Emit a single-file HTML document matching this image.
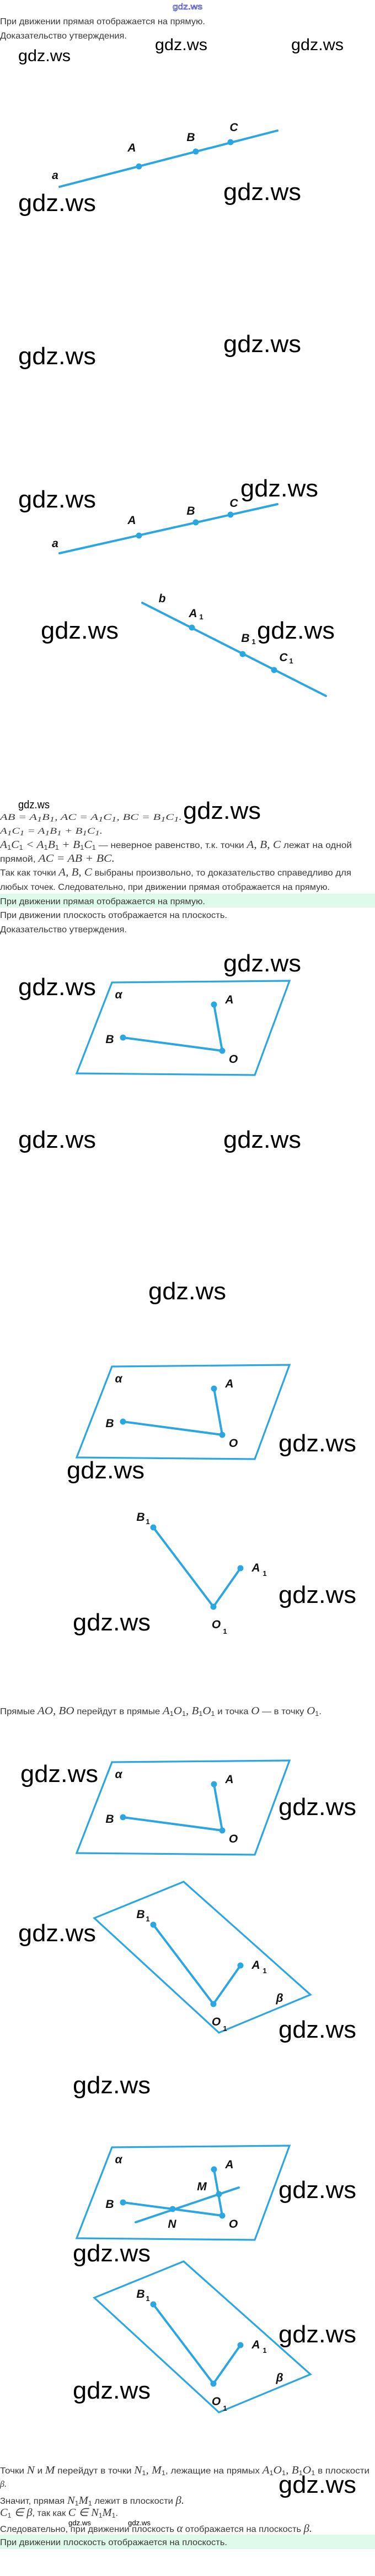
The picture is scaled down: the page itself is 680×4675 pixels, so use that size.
<!DOCTYPE html>
<html><head><meta charset="utf-8"><style>
html,body{margin:0;padding:0;background:#fff;}
svg{display:block;}
.t{font-family:"Liberation Sans",sans-serif;font-size:16px;fill:#3a3a3a;}
.m{font-family:"Liberation Serif",serif;font-style:italic;}
.w{font-family:"Liberation Sans",sans-serif;fill:#000;}
.l{font-family:"Liberation Sans",sans-serif;font-style:italic;font-weight:bold;font-size:21px;fill:#111;text-anchor:middle;}
.s{font-family:"Liberation Sans",sans-serif;font-weight:bold;font-size:13px;fill:#111;text-anchor:middle;}
.ln{stroke:#2aa6e2;stroke-width:4;stroke-linecap:round;fill:none;}
.pl{stroke:#2aa6e2;stroke-width:3.2;fill:none;stroke-linejoin:miter;}
.d{fill:#2aa6e2;}
</style></head><body>
<svg width="680" height="4675" viewBox="0 0 680 4675" xmlns="http://www.w3.org/2000/svg">
<rect x="0" y="1622" width="680" height="25" fill="#ddfaeb"/>
<rect x="0" y="4600" width="680" height="26" fill="#ddfaeb"/>

<!-- texts -->
<text x="340" y="17" font-family="Liberation Sans,sans-serif" font-size="15" fill="#fff" stroke="#3333cc" stroke-width="0.7" text-anchor="middle" textLength="54" lengthAdjust="spacingAndGlyphs">gdz.ws</text>
<text class="t" x="0" y="44" textLength="372" lengthAdjust="spacingAndGlyphs">При движении прямая отображается на прямую.</text>
<text class="t" x="0" y="70" textLength="230" lengthAdjust="spacingAndGlyphs">Доказательство утверждения.</text>

<text class="w" x="33" y="1467" font-size="20" textLength="57" lengthAdjust="spacingAndGlyphs">gdz.ws</text>
<text class="t m" x="0" y="1488" font-size="20" textLength="330" lengthAdjust="spacingAndGlyphs">AB = A<tspan font-size="13" dy="3">1</tspan><tspan dy="-3">B</tspan><tspan font-size="13" dy="3">1</tspan><tspan dy="-3">, AC = A</tspan><tspan font-size="13" dy="3">1</tspan><tspan dy="-3">C</tspan><tspan font-size="13" dy="3">1</tspan><tspan dy="-3">, BC = B</tspan><tspan font-size="13" dy="3">1</tspan><tspan dy="-3">C</tspan><tspan font-size="13" dy="3">1</tspan><tspan dy="-3">.</tspan></text>
<text class="t m" x="0" y="1513" font-size="20" textLength="186" lengthAdjust="spacingAndGlyphs">A<tspan font-size="13" dy="3">1</tspan><tspan dy="-3">C</tspan><tspan font-size="13" dy="3">1</tspan><tspan dy="-3"> = A</tspan><tspan font-size="13" dy="3">1</tspan><tspan dy="-3">B</tspan><tspan font-size="13" dy="3">1</tspan><tspan dy="-3"> + B</tspan><tspan font-size="13" dy="3">1</tspan><tspan dy="-3">C</tspan><tspan font-size="13" dy="3">1</tspan><tspan dy="-3">.</tspan></text>
<text class="t" x="0" y="1539" textLength="638" lengthAdjust="spacingAndGlyphs"><tspan class="m" font-size="20">A</tspan><tspan font-size="12" dy="3">1</tspan><tspan class="m" font-size="20" dy="-3">C</tspan><tspan font-size="12" dy="3">1</tspan><tspan class="m" font-size="20" dy="-3"> &lt; A</tspan><tspan font-size="12" dy="3">1</tspan><tspan class="m" font-size="20" dy="-3">B</tspan><tspan font-size="12" dy="3">1</tspan><tspan class="m" font-size="20" dy="-3"> + B</tspan><tspan font-size="12" dy="3">1</tspan><tspan class="m" font-size="20" dy="-3">C</tspan><tspan font-size="12" dy="3">1</tspan><tspan dy="-3"> — неверное равенство, т.к. точки </tspan><tspan class="m" font-size="20">A, B, C</tspan><tspan> лежат на одной</tspan></text>
<text class="t" x="0" y="1564" textLength="208" lengthAdjust="spacingAndGlyphs">прямой, <tspan class="m" font-size="20">AC = AB + BC.</tspan></text>
<text class="t" x="0" y="1589" textLength="637" lengthAdjust="spacingAndGlyphs">Так как точки <tspan class="m" font-size="20">A, B, C</tspan> выбраны произвольно, то доказательство справедливо для</text>
<text class="t" x="0" y="1615" textLength="598" lengthAdjust="spacingAndGlyphs">любых точек. Следовательно, при движении прямая отображается на прямую.</text>
<text class="t" x="0" y="1641" textLength="372" lengthAdjust="spacingAndGlyphs">При движении прямая отображается на прямую.</text>
<text class="t" x="0" y="1666" textLength="412" lengthAdjust="spacingAndGlyphs">При движении плоскость отображается на плоскость.</text>
<text class="t" x="0" y="1692" textLength="230" lengthAdjust="spacingAndGlyphs">Доказательство утверждения.</text>

<text class="t" x="0" y="3111" textLength="583" lengthAdjust="spacingAndGlyphs">Прямые <tspan class="m" font-size="20">AO, BO</tspan> перейдут в прямые <tspan class="m" font-size="20">A</tspan><tspan font-size="12" dy="3">1</tspan><tspan class="m" font-size="20" dy="-3">O</tspan><tspan font-size="12" dy="3">1</tspan><tspan class="m" font-size="20" dy="-3">, B</tspan><tspan font-size="12" dy="3">1</tspan><tspan class="m" font-size="20" dy="-3">O</tspan><tspan font-size="12" dy="3">1</tspan><tspan dy="-3"> и точка </tspan><tspan class="m" font-size="20">O</tspan> — в точку <tspan class="m" font-size="20">O</tspan><tspan font-size="12" dy="3">1</tspan><tspan dy="-3">.</tspan></text>

<text class="t" x="0" y="4489" textLength="670" lengthAdjust="spacingAndGlyphs">Точки <tspan class="m" font-size="20">N</tspan> и <tspan class="m" font-size="20">M</tspan> перейдут в точки <tspan class="m" font-size="20">N</tspan><tspan font-size="12" dy="3">1</tspan><tspan class="m" font-size="20" dy="-3">, M</tspan><tspan font-size="12" dy="3">1</tspan><tspan dy="-3">, лежащие на прямых </tspan><tspan class="m" font-size="20">A</tspan><tspan font-size="12" dy="3">1</tspan><tspan class="m" font-size="20" dy="-3">O</tspan><tspan font-size="12" dy="3">1</tspan><tspan class="m" font-size="20" dy="-3">, B</tspan><tspan font-size="12" dy="3">1</tspan><tspan class="m" font-size="20" dy="-3">O</tspan><tspan font-size="12" dy="3">1</tspan><tspan dy="-3"> в плоскости</tspan></text>
<text class="t m" x="0" y="4513" font-size="20">β.</text>
<text class="t" x="0" y="4544" textLength="334" lengthAdjust="spacingAndGlyphs">Значит, прямая <tspan class="m" font-size="20">N</tspan><tspan font-size="12" dy="3">1</tspan><tspan class="m" font-size="20" dy="-3">M</tspan><tspan font-size="12" dy="3">1</tspan><tspan dy="-3"> лежит в плоскости </tspan><tspan class="m" font-size="20">β.</tspan></text>
<text class="t" x="0" y="4566" textLength="214" lengthAdjust="spacingAndGlyphs"><tspan class="m" font-size="20">C</tspan><tspan font-size="12" dy="3">1</tspan><tspan class="m" font-size="20" dy="-3"> ∈ β</tspan>, так как <tspan class="m" font-size="20">C ∈ N</tspan><tspan font-size="12" dy="3">1</tspan><tspan class="m" font-size="20" dy="-3">M</tspan><tspan font-size="12" dy="3">1</tspan><tspan dy="-3">.</tspan></text>
<text class="w" x="124" y="4583" font-size="13" textLength="41" lengthAdjust="spacingAndGlyphs">gdz.ws</text>
<text class="w" x="232" y="4583" font-size="13" textLength="41" lengthAdjust="spacingAndGlyphs">gdz.ws</text>
<text class="t" x="0" y="4595" textLength="566" lengthAdjust="spacingAndGlyphs">Следовательно, при движении плоскость <tspan class="m" font-size="20">α</tspan> отображается на плоскость <tspan class="m" font-size="20">β.</tspan></text>
<text class="t" x="0" y="4619" textLength="412" lengthAdjust="spacingAndGlyphs">При движении плоскость отображается на плоскость.</text>

<!-- line figure 1 -->
<line class="ln" x1="108" y1="339" x2="503" y2="237"/>
<circle class="d" cx="252" cy="302" r="5.5"/><circle class="d" cx="355" cy="275" r="5.5"/><circle class="d" cx="418" cy="258" r="5.5"/>
<text class="l" x="100" y="325">a</text><text class="l" x="239" y="275">A</text><text class="l" x="346" y="256">B</text><text class="l" x="424" y="238">C</text>

<!-- line figure 2 -->
<line class="ln" x1="108" y1="1004" x2="503" y2="915"/>
<circle class="d" cx="252" cy="972" r="5.5"/><circle class="d" cx="355" cy="948" r="5.5"/><circle class="d" cx="418" cy="934" r="5.5"/>
<text class="l" x="100" y="993">a</text><text class="l" x="239" y="951">A</text><text class="l" x="346" y="934">B</text><text class="l" x="424" y="920">C</text>
<line class="ln" x1="258" y1="1094" x2="591" y2="1263"/>
<circle class="d" cx="348" cy="1139" r="5.5"/><circle class="d" cx="440" cy="1187" r="5.5"/><circle class="d" cx="497" cy="1216" r="5.5"/>
<text class="l" x="294" y="1093">b</text>
<text class="l" x="350" y="1120">A</text><text class="s" x="365" y="1124">1</text>
<text class="l" x="445" y="1165">B</text><text class="s" x="460" y="1169">1</text>
<text class="l" x="514" y="1200">C</text><text class="s" x="528" y="1204">1</text>

<!-- plane alpha template uses -->
<defs>
<g id="pa">
<polygon class="pl" points="0,0 322,-3 259,168 -64,165"/>
<text class="l" x="12" y="29" font-weight="normal">α</text>
<line class="ln" x1="185" y1="40" x2="200" y2="124"/>
<line class="ln" x1="20" y1="100" x2="200" y2="124"/>
<circle class="d" cx="185" cy="40" r="5.5"/><circle class="d" cx="20" cy="100" r="5.5"/><circle class="d" cx="200" cy="124" r="5.5"/>
<text class="l" x="213" y="38">A</text><text class="l" x="-4" y="110">B</text><text class="l" x="220" y="146">O</text>
</g>
<g id="fb">
<line class="ln" x1="0" y1="0" x2="109" y2="144"/>
<line class="ln" x1="158" y1="74" x2="109" y2="144"/>
<circle class="d" cx="0" cy="0" r="5.5"/><circle class="d" cx="158" cy="74" r="5.5"/><circle class="d" cx="109" cy="144" r="5.5"/>
<text class="l" x="-23" y="-12">B</text><text class="s" x="-10" y="-6">1</text>
<text class="l" x="186" y="80">A</text><text class="s" x="202" y="88">1</text>
<text class="l" x="114" y="183">O</text><text class="s" x="130" y="193">1</text>
</g>
<g id="pb">
<polygon class="pl" points="55,-78 285,127 119,196 -107,-12"/>
<text class="l" x="229" y="140" font-weight="normal">β</text>
</g>
</defs>
<use href="#pa" x="203" y="1783"/>
<use href="#pa" x="203" y="2480"/>
<use href="#fb" x="278" y="2772"/>
<use href="#pa" x="203" y="3198"/>
<use href="#pb" x="278" y="3493"/><use href="#fb" x="278" y="3493"/>
<use href="#pa" x="203" y="3897"/>
<line class="ln" x1="246" y1="4033" x2="433" y2="3970"/>
<circle class="d" cx="397" cy="3982" r="5.5"/><circle class="d" cx="313" cy="4009" r="5.5"/>
<text class="l" x="366" y="3975">M</text><text class="l" x="312" y="4043">N</text>
<use href="#pb" x="278" y="4182"/><use href="#fb" x="278" y="4182"/>

<!-- watermarks -->
<g class="w">
<text x="33" y="111" font-size="30" textLength="95" lengthAdjust="spacingAndGlyphs">gdz.ws</text>
<text x="281" y="91" font-size="30" textLength="95" lengthAdjust="spacingAndGlyphs">gdz.ws</text>
<text x="528" y="91" font-size="30" textLength="95" lengthAdjust="spacingAndGlyphs">gdz.ws</text>
<text x="33" y="383" font-size="44" textLength="141" lengthAdjust="spacingAndGlyphs">gdz.ws</text>
<text x="405" y="363" font-size="44" textLength="141" lengthAdjust="spacingAndGlyphs">gdz.ws</text>
<text x="33" y="661" font-size="44" textLength="141" lengthAdjust="spacingAndGlyphs">gdz.ws</text>
<text x="405" y="639" font-size="44" textLength="141" lengthAdjust="spacingAndGlyphs">gdz.ws</text>
<text x="33" y="921" font-size="44" textLength="141" lengthAdjust="spacingAndGlyphs">gdz.ws</text>
<text x="436" y="901" font-size="44" textLength="141" lengthAdjust="spacingAndGlyphs">gdz.ws</text>
<text x="74" y="1159" font-size="44" textLength="141" lengthAdjust="spacingAndGlyphs">gdz.ws</text>
<text x="466" y="1159" font-size="44" textLength="141" lengthAdjust="spacingAndGlyphs">gdz.ws</text>
<text x="332" y="1486" font-size="44" textLength="141" lengthAdjust="spacingAndGlyphs">gdz.ws</text>
<text x="405" y="1763" font-size="44" textLength="141" lengthAdjust="spacingAndGlyphs">gdz.ws</text>
<text x="33" y="1806" font-size="44" textLength="141" lengthAdjust="spacingAndGlyphs">gdz.ws</text>
<text x="33" y="2083" font-size="44" textLength="141" lengthAdjust="spacingAndGlyphs">gdz.ws</text>
<text x="405" y="2083" font-size="44" textLength="141" lengthAdjust="spacingAndGlyphs">gdz.ws</text>
<text x="269" y="2358" font-size="44" textLength="141" lengthAdjust="spacingAndGlyphs">gdz.ws</text>
<text x="505" y="2634" font-size="44" textLength="141" lengthAdjust="spacingAndGlyphs">gdz.ws</text>
<text x="121" y="2683" font-size="44" textLength="141" lengthAdjust="spacingAndGlyphs">gdz.ws</text>
<text x="505" y="2909" font-size="44" textLength="141" lengthAdjust="spacingAndGlyphs">gdz.ws</text>
<text x="132" y="2959" font-size="44" textLength="141" lengthAdjust="spacingAndGlyphs">gdz.ws</text>
<text x="37" y="3234" font-size="44" textLength="141" lengthAdjust="spacingAndGlyphs">gdz.ws</text>
<text x="505" y="3294" font-size="44" textLength="141" lengthAdjust="spacingAndGlyphs">gdz.ws</text>
<text x="33" y="3523" font-size="44" textLength="141" lengthAdjust="spacingAndGlyphs">gdz.ws</text>
<text x="505" y="3698" font-size="44" textLength="141" lengthAdjust="spacingAndGlyphs">gdz.ws</text>
<text x="132" y="3799" font-size="44" textLength="141" lengthAdjust="spacingAndGlyphs">gdz.ws</text>
<text x="505" y="3989" font-size="44" textLength="141" lengthAdjust="spacingAndGlyphs">gdz.ws</text>
<text x="132" y="4104" font-size="44" textLength="141" lengthAdjust="spacingAndGlyphs">gdz.ws</text>
<text x="505" y="4251" font-size="44" textLength="141" lengthAdjust="spacingAndGlyphs">gdz.ws</text>
<text x="132" y="4353" font-size="44" textLength="141" lengthAdjust="spacingAndGlyphs">gdz.ws</text>
<text x="505" y="4524" font-size="44" textLength="141" lengthAdjust="spacingAndGlyphs">gdz.ws</text>
</g>
</svg>
</body></html>
